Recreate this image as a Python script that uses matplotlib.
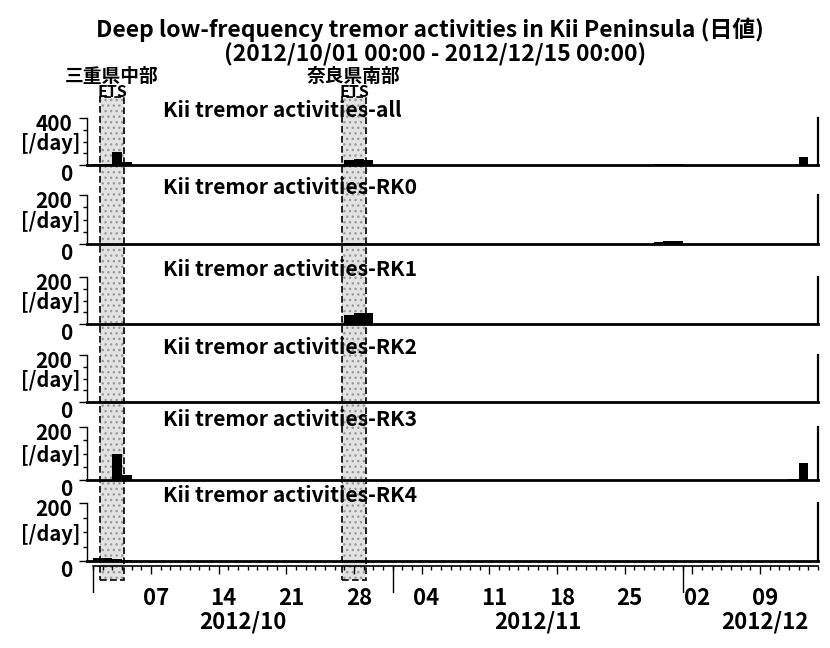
import numpy as np
import matplotlib
matplotlib.use('Agg')
import matplotlib.pyplot as plt
from matplotlib.patches import Rectangle
from matplotlib.transforms import blended_transform_factory

plt.rcParams['font.family'] = ['Noto Sans CJK JP', 'DejaVu Sans']
plt.rcParams['font.weight'] = 'bold'

# daily tremor counts (only days with activity are listed)
start = np.datetime64('2012-10-01')
n_days = 75
dates = ['2012-10-01', '2012-10-02', '2012-10-03', '2012-10-04',
         '2012-10-27', '2012-10-28', '2012-10-29',
         '2012-11-28', '2012-11-29', '2012-11-30',
         '2012-12-12', '2012-12-13']
count_all = [12, 10, 114, 23, 40, 50, 45, 8, 12, 12, 4, 70]
count_rk0 = [0, 0, 0, 0, 3, 3, 0, 8, 12, 12, 0, 0]
count_rk1 = [0, 0, 6, 0, 37, 45, 45, 0, 0, 0, 0, 0]
count_rk2 = [0, 0, 0, 0, 0, 0, 0, 0, 0, 0, 0, 0]
count_rk3 = [0, 0, 100, 18, 0, 0, 0, 0, 0, 0, 4, 66]
count_rk4 = [12, 10, 8, 5, 0, 2, 0, 0, 0, 0, 0, 0]

panel_names = ['all', 'RK0', 'RK1', 'RK2', 'RK3', 'RK4']
panel_max = [400, 200, 200, 200, 200, 200]
panel_counts = [count_all, count_rk0, count_rk1, count_rk2, count_rk3, count_rk4]

# ETS episodes
ets_names = ['三重県中部', '奈良県南部']
ets_start = ['2012-10-01T17', '2012-10-26T18']
ets_end = ['2012-10-04T05', '2012-10-29T06']

# date axis
week_days = ['2012-10-07', '2012-10-14', '2012-10-21', '2012-10-28',
             '2012-11-04', '2012-11-11', '2012-11-18', '2012-11-25',
             '2012-12-02', '2012-12-09']
month_starts = ['2012-10-01', '2012-11-01', '2012-12-01']
month_labels = ['2012/10', '2012/11', '2012/12']


def day_offset(d):
    t = np.array(d, dtype='datetime64[h]')
    return (t - start.astype('datetime64[h]')).astype(float) / 24.0


W, H = 830, 648
fig = plt.figure(figsize=(W / 100, H / 100), dpi=100)

left_px, right_px = 87, 818
x_lo = -0.62
tops = [118, 195, 277, 355, 427, 503]
bases = [165, 244, 324, 402, 480, 561]

day_x = day_offset(dates)
axes = []
for name, ymax, counts, top, base in zip(panel_names, panel_max, panel_counts, tops, bases):
    ax = fig.add_axes([left_px / W, 1 - base / H, (right_px - left_px) / W, (base - top) / H])
    ax.set_facecolor('none')
    ax.bar(day_x, counts, width=1.0, align='edge', color='black', linewidth=0)
    ax.set_xlim(x_lo, n_days)
    ax.set_ylim(0, ymax)
    ax.spines['top'].set_visible(False)
    ax.spines['bottom'].set_linewidth(2.0)
    ax.spines['right'].set_linewidth(1.6)
    ax.spines['left'].set_linewidth(1.0)
    ax.set_xticks([])
    ax.set_yticks([0, ymax], labels=['', ''])
    ax.set_yticks(np.linspace(0, ymax, 5)[1:-1], minor=True)
    ax.tick_params(axis='y', which='major', direction='out', length=5.5, width=1.0)
    ax.tick_params(axis='y', which='minor', direction='out', length=2.8, width=1.0)
    ax.annotate(str(ymax), xy=(0, ymax), xycoords=('axes fraction', 'data'),
                xytext=(-10.5, 3), textcoords='offset points',
                ha='right', va='top', fontsize=15)
    ax.annotate('0', xy=(0, 0), xycoords=('axes fraction', 'data'),
                xytext=(-10.5, 1), textcoords='offset points',
                ha='right', va='top', fontsize=15)
    ax.annotate('[/day]', xy=(0, 0.5), xycoords='axes fraction',
                xytext=(-4.5, -1.5), textcoords='offset points',
                ha='right', va='center', fontsize=14.5)
    ax.annotate('Kii tremor activities-' + name, xy=(0, 1), xycoords='axes fraction',
                xytext=(55, 1.0), textcoords='offset points',
                ha='left', va='baseline', fontsize=15.2)
    axes.append(ax)

# separate time scale under the last panel
ax_time = fig.add_axes([left_px / W, 1 - 593 / H, (right_px - left_px) / W, 27 / H])
ax_time.set_facecolor('none')
ax_time.set_xlim(x_lo, n_days)
ax_time.set_ylim(0, 1)
for s in ('left', 'right', 'bottom'):
    ax_time.spines[s].set_visible(False)
ax_time.spines['top'].set_bounds(0, n_days)
ax_time.spines['top'].set_linewidth(1.2)
ax_time.set_yticks([])
ax_time.xaxis.set_ticks_position('top')
ax_time.set_xticks(day_offset(week_days), labels=[''] * len(week_days))
ax_time.set_xticks(np.arange(0, n_days + 1), minor=True)
ax_time.tick_params(axis='x', which='major', direction='in', length=6, width=1.0,
                    labeltop=False, labelbottom=False)
ax_time.tick_params(axis='x', which='minor', direction='in', length=3, width=1.0)
ax_time.vlines(day_offset(month_starts), 0, 1, color='black', linewidth=1.0)
for d in week_days:
    ax_time.text(day_offset(d) + 0.5, 0.22, d[-2:], transform=ax_time.get_xaxis_transform(),
                 ha='center', va='top', fontsize=16)
month_x = [15.5, 46.0, 69.5]
for mx, lab in zip(month_x, month_labels):
    ax_time.text(mx, -0.63, lab, transform=ax_time.get_xaxis_transform(),
                 ha='center', va='top', fontsize=16)

# ETS windows spanning all panels
trans = blended_transform_factory(ax_time.transData, fig.transFigure)
box_top, box_bot = 1 - 97 / H, 1 - 580 / H
for name, s, e in zip(ets_names, ets_start, ets_end):
    x0, x1 = day_offset(s), day_offset(e)
    fig.add_artist(Rectangle((x0, box_bot), x1 - x0, box_top - box_bot, transform=trans,
                             facecolor='#e2e2e2', edgecolor='none', zorder=-3))
    fig.add_artist(Rectangle((x0, box_bot), x1 - x0, box_top - box_bot, transform=trans,
                             facecolor='none', edgecolor='#9a9a9a', hatch='...',
                             linewidth=0, zorder=-2))
    fig.add_artist(Rectangle((x0, box_bot), x1 - x0, box_top - box_bot, transform=trans,
                             facecolor='none', edgecolor='black', linewidth=1.2,
                             linestyle=(0, (4, 2)), zorder=-1))
    xc = (x0 + x1) / 2
    fig.text(xc, 1 - 76 / H, name, transform=trans, ha='center', va='center', fontsize=13.5)
    fig.text(xc, 1 - 92 / H, 'ETS', transform=trans, ha='center', va='center', fontsize=11.5)

fig.text(430 / W, 1 - 37 / H, 'Deep low-frequency tremor activities in Kii Peninsula (日値)',
         ha='center', va='baseline', fontsize=16.5)
fig.text(435 / W, 1 - 61 / H, '(2012/10/01 00:00 - 2012/12/15 00:00)',
         ha='center', va='baseline', fontsize=16.5)

fig.savefig('out.png', dpi=100)
